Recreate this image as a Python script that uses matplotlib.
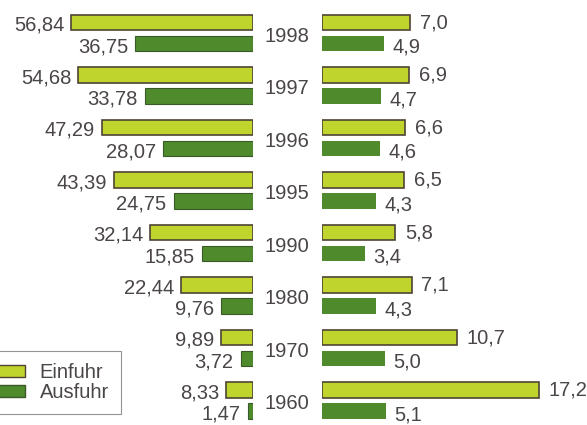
import matplotlib
matplotlib.use("Agg")
import matplotlib.pyplot as plt
from matplotlib.patches import Patch
from matplotlib.transforms import blended_transform_factory

plt.rcParams["font.family"] = ["Liberation Sans", "DejaVu Sans"]

# ── Data ──────────────────────────────────────────────────────────────────────
years = ["1998", "1997", "1996", "1995", "1990", "1980", "1970", "1960"]
einfuhr_abs = [56.84, 54.68, 47.29, 43.39, 32.14, 22.44, 9.89, 8.33]
ausfuhr_abs = [36.75, 33.78, 28.07, 24.75, 15.85, 9.76, 3.72, 1.47]
einfuhr_pct = [7.0, 6.9, 6.6, 6.5, 5.8, 7.1, 10.7, 17.2]
ausfuhr_pct = [4.9, 4.7, 4.6, 4.3, 3.4, 4.3, 5.0, 5.1]

# ── Style ─────────────────────────────────────────────────────────────────────
W, H = 587, 425
C_EIN = "#bfd42c"
C_AUS = "#4f8a2d"
C_EDGE = "#4f4335"
C_TEXT = "#4a4548"
FS = 14.5           # value labels
ROW = 52.5          # px between rows
TOP = 33.0          # px from top to first row centre
OFF = 10.3 / ROW    # bar offset from row centre
BH = 15.5 / ROW     # bar height

fig = plt.figure(figsize=(W / 100, H / 100), dpi=100)

ylim = (H - TOP) / ROW, -TOP / ROW
ax_l = fig.add_axes([0, 0, 252.5 / W, 1])
ax_r = fig.add_axes([322 / W, 0, 1 - 322 / W, 1])

ax_l.set_xlim(252.5 / 3.19, 0)
ax_r.set_xlim(0, (W - 322) / 12.62)

for ax in (ax_l, ax_r):
    ax.set_ylim(*ylim)
    ax.axis("off")

rows = list(range(len(years)))
y_ein = [r - OFF for r in rows]
y_aus = [r + OFF for r in rows]

# left: absolute values
ax_l.barh(y_ein, einfuhr_abs, height=BH, color=C_EIN, edgecolor=C_EDGE, linewidth=1.2)
ax_l.barh(y_aus, ausfuhr_abs, height=BH, color=C_AUS, edgecolor="#3b5a2a", linewidth=0.8)
for y, v in zip(y_ein, einfuhr_abs):
    ax_l.annotate(f"{v:.2f}".replace(".", ","), (v, y), xytext=(-5, -2),
                  textcoords="offset points", ha="right", va="center",
                  fontsize=FS, color=C_TEXT)
for y, v in zip(y_aus, ausfuhr_abs):
    ax_l.annotate(f"{v:.2f}".replace(".", ","), (v, y), xytext=(-5, -2.5),
                  textcoords="offset points", ha="right", va="center",
                  fontsize=FS, color=C_TEXT)

# right: shares
ax_r.barh(y_ein, einfuhr_pct, height=BH, color=C_EIN, edgecolor=C_EDGE, linewidth=1.2)
ax_r.barh(y_aus, ausfuhr_pct, height=BH, color=C_AUS, edgecolor="none")
for y, v in zip(y_ein, einfuhr_pct):
    ax_r.annotate(f"{v:.1f}".replace(".", ","), (v, y), xytext=(7, 0),
                  textcoords="offset points", ha="left", va="center",
                  fontsize=FS, color=C_TEXT)
for y, v in zip(y_aus, ausfuhr_pct):
    ax_r.annotate(f"{v:.1f}".replace(".", ","), (v, y), xytext=(6, -3),
                  textcoords="offset points", ha="left", va="center",
                  fontsize=FS, color=C_TEXT)

# years in the middle
tr = blended_transform_factory(fig.transFigure, ax_l.transData)
for r, yr in zip(rows, years):
    fig.text(287 / W, r + 0.06, yr, transform=tr, ha="center", va="center",
             fontsize=14.5, color=C_TEXT)

# legend, partly cut off at the left edge like the original
handles = [Patch(facecolor=C_EIN, edgecolor=C_EDGE, label="Einfuhr"),
           Patch(facecolor=C_AUS, edgecolor="#3b5a2a", label="Ausfuhr")]
leg = fig.legend(handles=handles, loc="upper left",
                 bbox_to_anchor=(-27 / W, 1 - 351 / H), frameon=True,
                 fancybox=False, fontsize=FS, handlelength=2.0,
                 handleheight=0.55, labelspacing=0.05, borderpad=0.6,
                 borderaxespad=0, handletextpad=0.7, labelcolor=C_TEXT)
leg.get_frame().set_edgecolor("#777777")
leg.get_frame().set_linewidth(0.8)

fig.savefig("out.png", dpi=100)
